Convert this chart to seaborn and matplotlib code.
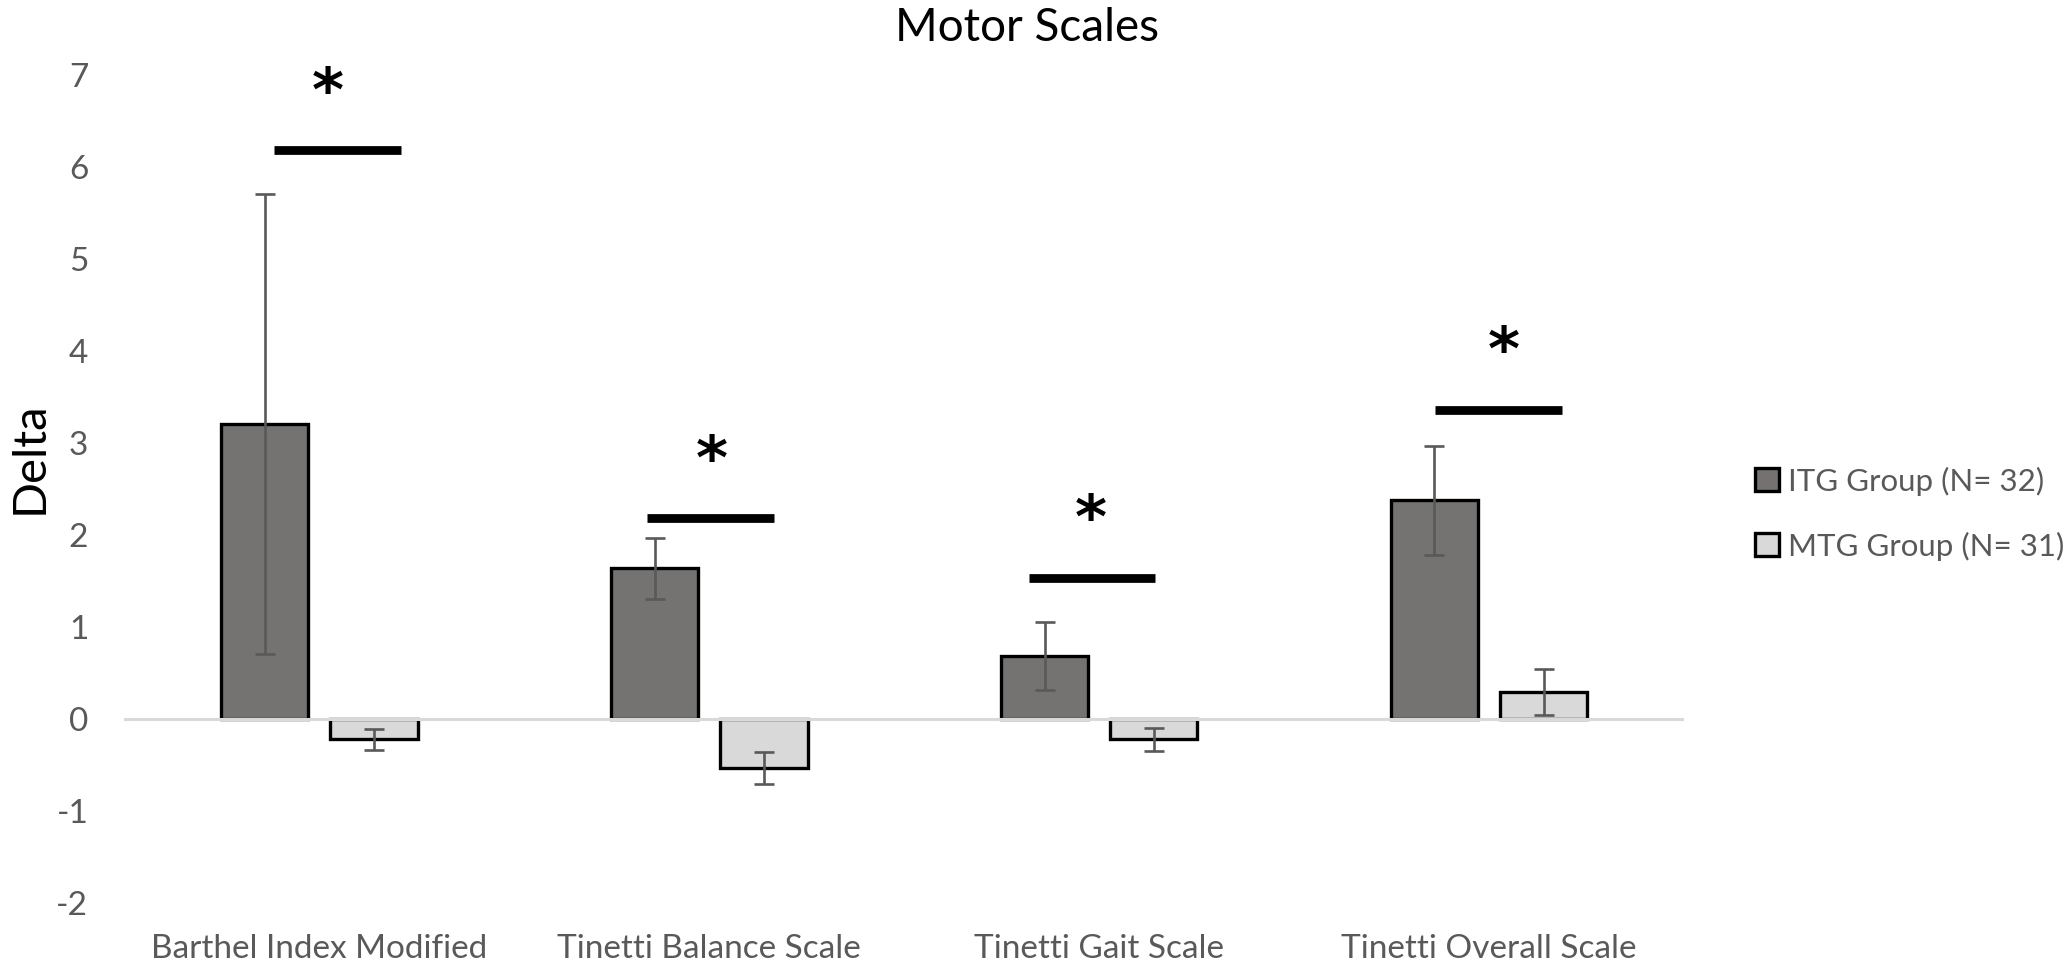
import pandas as pd
import seaborn as sns
import matplotlib.pyplot as plt

# data
categories = ["Barthel Index Modified", "Tinetti Balance Scale",
              "Tinetti Gait Scale", "Tinetti Overall Scale"]
groups = ["ITG Group (N= 32)", "MTG Group (N= 31)"]
itg_mean = [3.21, 1.64, 0.69, 2.38]
itg_err = [2.50, 0.33, 0.37, 0.59]
mtg_mean = [-0.22, -0.53, -0.22, 0.30]
mtg_err = [0.11, 0.17, 0.12, 0.25]

# significance markers (level of bar / asterisk, shift from category centre)
sig_level = [6.19, 2.19, 1.54, 3.36]
star_level = [6.95, 2.95, 2.30, 4.13]
sig_shift = [0.046, 0.004, -0.018, 0.025]
star_shift = [0.022, 0.007, -0.021, 0.038]

grey_text = "#595959"
colors = ["#767171", "#d9d9d9"]

df = pd.DataFrame({
    "Scale": categories * 2,
    "Group": [groups[0]] * 4 + [groups[1]] * 4,
    "Delta": itg_mean + mtg_mean,
})

sns.set_style("white")
plt.rcParams["font.family"] = ["Lato", "DejaVu Sans"]
plt.rcParams["axes.unicode_minus"] = False

fig = plt.figure(figsize=(20.71, 9.67), dpi=100)
ax = fig.add_axes([0.0601, 0.066, 0.7530, 0.856])

sns.barplot(data=df, x="Scale", y="Delta", hue="Group", palette=colors,
            width=0.56, gap=0.2, edgecolor="black", linewidth=2.4,
            errorbar=None, legend=False, ax=ax, zorder=2)

# error bars on top of each bar container
for cont, errs in zip(ax.containers, [itg_err, mtg_err]):
    xs = [p.get_x() + p.get_width() / 2 for p in cont.patches]
    ys = [p.get_y() + p.get_height() for p in cont.patches]
    ax.errorbar(xs, ys, yerr=errs, fmt="none", ecolor=grey_text,
                elinewidth=1.9, capsize=7.2, capthick=1.9, zorder=4)

ax.axhline(0, color="#d9d9d9", lw=2.2, zorder=3)

for i in range(len(categories)):
    c = i + sig_shift[i]
    ax.plot([c - 0.1625, c + 0.1625], [sig_level[i], sig_level[i]],
            color="black", lw=6.3, solid_capstyle="butt", zorder=5)
    ax.annotate("*", (i + star_shift[i], star_level[i]), xytext=(0, -5.5),
                textcoords="offset points", ha="center",
                va="center_baseline", fontsize=44, fontweight="bold",
                family="DejaVu Sans", color="black")

ax.set_xlim(-0.5, 3.5)
ax.set_ylim(-2, 7)
ax.set_yticks(range(-2, 8))
ax.set_xlabel("")
ax.set_ylabel("")
sns.despine(ax=ax, left=True, bottom=True)
ax.tick_params(axis="both", length=0, labelsize=24, labelcolor=grey_text)
ax.tick_params(axis="y", pad=26)
ax.tick_params(axis="x", pad=22)

fig.text(0.496, 0.971, "Motor Scales", ha="center", va="center",
         fontsize=33, color="black")
fig.text(0.0145, 0.527, "Delta", ha="center", va="center", rotation=90,
         fontsize=34, color="black")

handles = [plt.Rectangle((0, 0), 1, 1, facecolor=c, edgecolor="black",
                         linewidth=2.4) for c in colors]
fig.legend(handles, groups, loc="center left",
           bbox_to_anchor=(0.840, 0.469), frameon=False, fontsize=22.5,
           labelcolor=grey_text, handlelength=0.75, handleheight=0.75,
           handletextpad=0.3, labelspacing=1.15, borderpad=0)

fig.savefig("out.png", dpi=100)
